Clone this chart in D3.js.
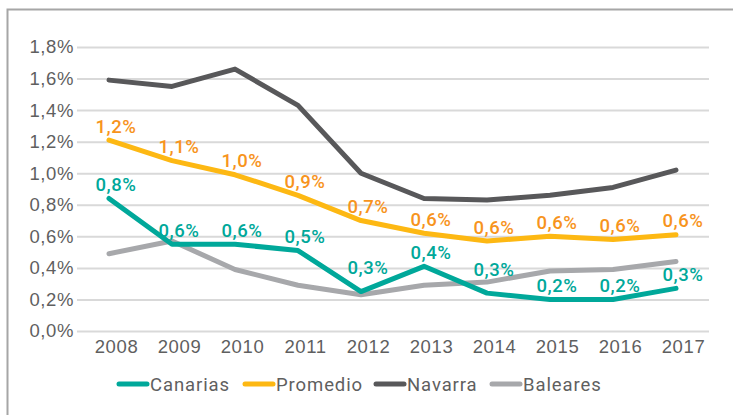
<!DOCTYPE html>
<html>
<head>
<meta charset="utf-8">
<script src="https://cdn.jsdelivr.net/npm/d3@7"></script>
<style>
  html, body { margin: 0; padding: 0; background: #fff; }
  svg { display: block; font-family: Roboto, "DejaVu Sans", sans-serif; }
</style>
</head>
<body>
<svg id="chart" width="733" height="415"></svg>
<script>
const years = ["2008", "2009", "2010", "2011", "2012", "2013", "2014", "2015", "2016", "2017"];
const yTicks = [0, 0.2, 0.4, 0.6, 0.8, 1.0, 1.2, 1.4, 1.6, 1.8];

const canarias = [0.84, 0.55, 0.55, 0.51, 0.25, 0.41, 0.24, 0.20, 0.20, 0.27];
const promedio = [1.21, 1.08, 0.99, 0.86, 0.70, 0.62, 0.57, 0.60, 0.58, 0.61];
const navarra  = [1.59, 1.55, 1.66, 1.43, 1.00, 0.84, 0.83, 0.86, 0.91, 1.02];
const baleares = [0.49, 0.57, 0.39, 0.29, 0.23, 0.29, 0.31, 0.38, 0.39, 0.44];

const canariasLabels = ["0,8%", "0,6%", "0,6%", "0,5%", "0,3%", "0,4%", "0,3%", "0,2%", "0,2%", "0,3%"];
const promedioLabels = ["1,2%", "1,1%", "1,0%", "0,9%", "0,7%", "0,6%", "0,6%", "0,6%", "0,6%", "0,6%"];

// series drawn back to front
const series = [
  { name: "Baleares", values: baleares, color: "#a7a8ab" },
  { name: "Navarra", values: navarra, color: "#58585a" },
  { name: "Promedio", values: promedio, color: "#fdb813", labels: promedioLabels, labelColor: "#f7941d" },
  { name: "Canarias", values: canarias, color: "#00a89a", labels: canariasLabels, labelColor: "#00a89a" }
];
const legendOrder = ["Canarias", "Promedio", "Navarra", "Baleares"];
// labels that Excel pushed higher to clear the gray line
const liftedLabels = { Canarias: ["2012", "2014"] };

const width = 733, height = 415;
const gridLeft = 77, gridRight = 709;
const textShift = 7; // category text sits a bit right of the points in the original
const fontSize = 18.5;

const svg = d3.select("#chart");

// outer frame (only top and left edges visible)
svg.append("path")
  .attr("d", `M7.5,${height} V9.5 H${width}`)
  .attr("fill", "none")
  .attr("stroke", "#a6a6a6")
  .attr("stroke-width", 2);

const xScale = d3.scalePoint()
  .domain(years)
  .range([109, 676]);

const yScale = d3.scaleLinear()
  .domain([0, 1.8])
  .range([331, 47]);

// Y grid + labels
const yAxis = d3.axisLeft(yScale)
  .tickValues(yTicks)
  .tickSize(-(gridRight - gridLeft))
  .tickPadding(3)
  .tickFormat((v) => d3.format(".1f")(v).replace(".", ",") + "%");

const yAxisGroup = svg.append("g")
  .attr("transform", `translate(${gridLeft},0)`)
  .call(yAxis);
yAxisGroup.select(".domain").remove();
yAxisGroup.selectAll("line").attr("stroke", "#d9d9d9").attr("stroke-width", 2);
yAxisGroup.selectAll("text")
  .attr("fill", "#5f5f5f")
  .attr("font-size", fontSize)
  .attr("letter-spacing", 0.6);

// X labels
const xAxis = d3.axisBottom(xScale).tickSize(0).tickPadding(9);
const xAxisGroup = svg.append("g")
  .attr("transform", `translate(${textShift},${yScale(0)})`)
  .call(xAxis);
xAxisGroup.select(".domain").remove();
xAxisGroup.selectAll("text")
  .attr("fill", "#5f5f5f")
  .attr("font-size", fontSize)
  .attr("letter-spacing", 0.6);

// lines
const line = d3.line()
  .x((d, i) => xScale(years[i]))
  .y((d) => yScale(d));

svg.selectAll(".series")
  .data(series)
  .enter()
  .append("path")
  .attr("class", "series")
  .attr("fill", "none")
  .attr("stroke", (d) => d.color)
  .attr("stroke-width", 5)
  .attr("stroke-linejoin", "round")
  .attr("stroke-linecap", "round")
  .attr("d", (d) => line(d.values));

// data labels
series.filter((s) => s.labels).forEach((s) => {
  const lifted = liftedLabels[s.name] || [];
  svg.append("g")
    .selectAll("text")
    .data(s.values)
    .enter()
    .append("text")
    .attr("x", (d, i) => xScale(years[i]) + textShift)
    .attr("y", (d, i) => yScale(d) - (lifted.includes(years[i]) ? 24 : 14))
    .attr("dy", "0.36em")
    .attr("text-anchor", "middle")
    .attr("fill", s.labelColor)
    .attr("font-size", fontSize)
    .attr("font-weight", 500)
    .attr("letter-spacing", 0.6)
    .text((d, i) => s.labels[i]);
});

// legend
const legendX = { Canarias: 117, Promedio: 243, Navarra: 374, Baleares: 490 };
const legend = svg.append("g")
  .selectAll("g")
  .data(legendOrder.map((n) => series.find((s) => s.name === n)))
  .enter()
  .append("g")
  .attr("transform", (d) => `translate(${legendX[d.name]},384)`);

legend.append("line")
  .attr("x1", 2).attr("x2", 30)
  .attr("stroke", (d) => d.color)
  .attr("stroke-width", 5)
  .attr("stroke-linecap", "round");

legend.append("text")
  .attr("x", 33)
  .attr("dy", "0.36em")
  .attr("fill", "#5f5f5f")
  .attr("font-size", fontSize)
  .attr("letter-spacing", 0.9)
  .text((d) => d.name);
</script>
</body>
</html>
